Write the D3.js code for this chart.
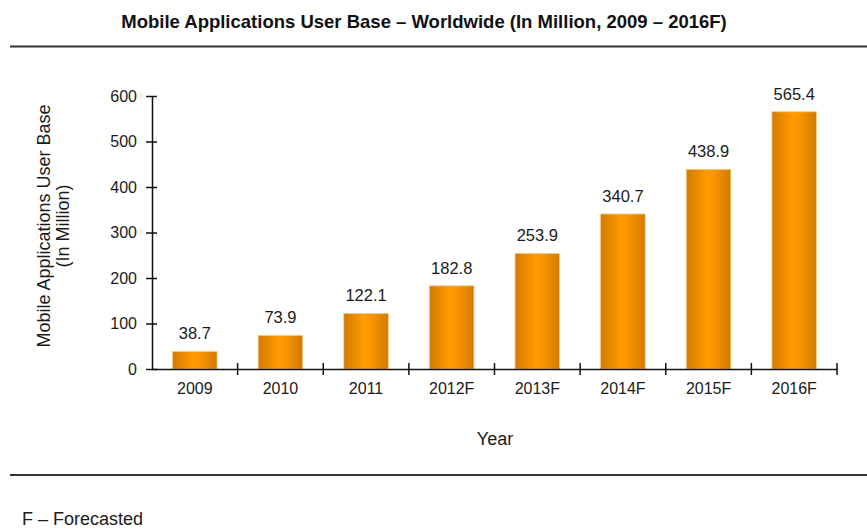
<!DOCTYPE html>
<html>
<head>
<meta charset="utf-8">
<script src="https://cdn.jsdelivr.net/npm/d3@7"></script>
<style>
  body { margin: 0; background: #fff; }
  svg { display: block; font-family: "Liberation Sans", Arial, sans-serif; }
</style>
</head>
<body>
<svg id="chart" width="867" height="529"></svg>
<script>
const years = ["2009", "2010", "2011", "2012F", "2013F", "2014F", "2015F", "2016F"];
const users = [38.7, 73.9, 122.1, 182.8, 253.9, 340.7, 438.9, 565.4];
const yTicks = [0, 100, 200, 300, 400, 500, 600];

const svg = d3.select("#chart");
const plotLeft = 152, plotRight = 837, plotTop = 96, plotBottom = 369;
const ink = "#1a1a1a";

const x = d3.scaleBand().domain(years).range([plotLeft, plotRight]).paddingInner(0.48).paddingOuter(0.24);
const y = d3.scaleLinear().domain([0, 600]).range([plotBottom, plotTop]);

// Bar gradient: darker edges, bright orange centre
const defs = svg.append("defs");
const grad = defs.append("linearGradient").attr("id", "barGrad").attr("x1", "0%").attr("x2", "100%");
grad.append("stop").attr("offset", "0%").attr("stop-color", "#d27a00");
grad.append("stop").attr("offset", "45%").attr("stop-color", "#ff9a00");
grad.append("stop").attr("offset", "60%").attr("stop-color", "#fb9600");
grad.append("stop").attr("offset", "100%").attr("stop-color", "#d27a00");

// Title and rules
svg.append("text").attr("x", 424).attr("y", 28).attr("text-anchor", "middle")
  .attr("font-size", 18.5).attr("font-weight", "bold").attr("fill", "#111")
  .text("Mobile Applications User Base – Worldwide (In Million, 2009 – 2016F)");
svg.append("line").attr("x1", 10).attr("x2", 867).attr("y1", 46.5).attr("y2", 46.5)
  .attr("stroke", "#333").attr("stroke-width", 2);
svg.append("line").attr("x1", 10).attr("x2", 867).attr("y1", 475).attr("y2", 475)
  .attr("stroke", "#333").attr("stroke-width", 2);

// Bars
svg.selectAll("rect.bar").data(years).join("rect")
  .attr("class", "bar")
  .attr("x", d => x(d))
  .attr("width", x.bandwidth())
  .attr("y", (d, i) => y(users[i]))
  .attr("height", (d, i) => y(0) - y(users[i]))
  .attr("fill", "url(#barGrad)")
  .attr("stroke", "#f7c98a").attr("stroke-width", 0.8);

// Value labels
svg.selectAll("text.val").data(years).join("text")
  .attr("class", "val")
  .attr("x", d => x(d) + x.bandwidth() / 2)
  .attr("y", (d, i) => y(users[i]) - 12)
  .attr("text-anchor", "middle").attr("font-size", 16.5).attr("fill", ink)
  .text((d, i) => users[i].toFixed(1));

// Y axis
const yAxis = d3.axisLeft(y).tickValues(yTicks).tickSize(0).tickPadding(15);
const gy = svg.append("g").attr("transform", `translate(${plotLeft},0)`).call(yAxis);
gy.select(".domain").attr("stroke", "#111").attr("stroke-width", 1.5);
gy.selectAll(".tick text").attr("font-size", 16).attr("fill", ink)
  .attr("font-family", "Liberation Sans, Arial, sans-serif");
gy.selectAll(".tick").append("line").attr("x1", -6).attr("x2", 5)
  .attr("stroke", "#111").attr("stroke-width", 1.5);

// X axis with category-boundary ticks
const xAxis = d3.axisBottom(x).tickSize(0).tickPadding(14);
const gx = svg.append("g").attr("transform", `translate(0,${plotBottom})`).call(xAxis);
gx.select(".domain").attr("stroke", "#111").attr("stroke-width", 1.5);
gx.selectAll(".tick text").attr("font-size", 16).attr("fill", ink)
  .attr("font-family", "Liberation Sans, Arial, sans-serif");
const bounds = d3.range(1, years.length + 1).map(i => plotLeft + i * (plotRight - plotLeft) / years.length);
gx.selectAll("line.sep").data(bounds).join("line").attr("class", "sep")
  .attr("x1", d => d).attr("x2", d => d).attr("y1", -6).attr("y2", 6)
  .attr("stroke", "#111").attr("stroke-width", 1.5);

// Axis titles
svg.append("text").attr("x", 495).attr("y", 445).attr("text-anchor", "middle")
  .attr("font-size", 18).attr("fill", ink).text("Year");
const yt = svg.append("text").attr("transform", "translate(50,226) rotate(-90)")
  .attr("text-anchor", "middle").attr("font-size", 18).attr("fill", ink);
yt.append("tspan").attr("x", 0).attr("dy", 0).text("Mobile Applications User Base");
yt.append("tspan").attr("x", 0).attr("dy", 19).text("(In Million)");

// Footnote
svg.append("text").attr("x", 22).attr("y", 525).attr("font-size", 18).attr("fill", ink)
  .text("F – Forecasted");
</script>
</body>
</html>
